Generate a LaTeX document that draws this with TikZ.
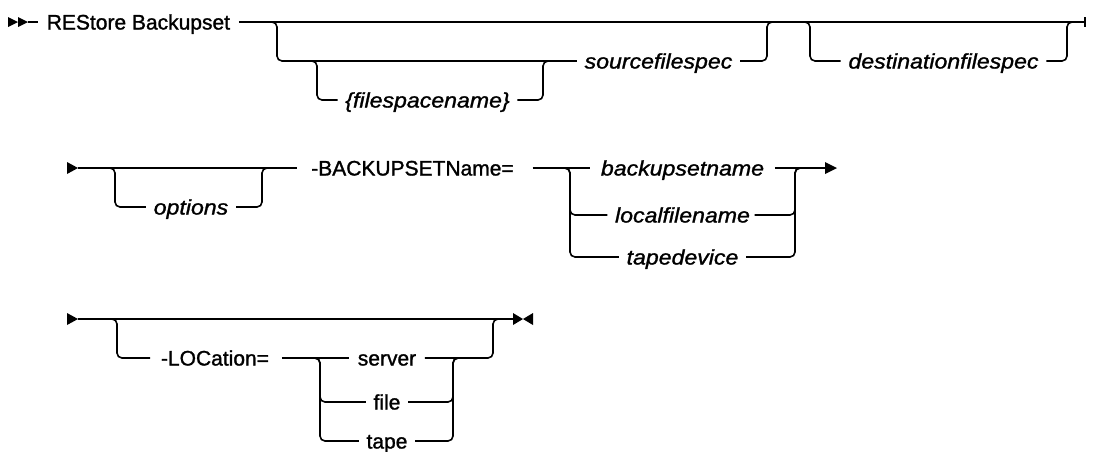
\documentclass[tikz,border=0pt]{standalone}
\usepackage{fontspec}
\setmainfont{Liberation Sans}[UprightFeatures={FakeBold=1.3},ItalicFeatures={FakeBold=1.3,FakeStretch=1.1}]
\begin{document}
\begin{tikzpicture}[x=1pt,y=-1pt,line width=1.6pt,
  rr/.style={rounded corners=5pt},
  txt/.style={inner xsep=0pt,inner ysep=0pt,text height=15pt,text depth=0pt,font=\fontsize{21}{25}\selectfont},
  itx/.style={txt,font=\fontsize{21}{25}\selectfont\itshape}]
\useasboundingbox (0,0) rectangle (1096,451);
% ---------- row 1 ----------
\fill (8,17) -- (18,22) -- (8,27) -- cycle;
\fill (18,17) -- (28,22) -- (18,27) -- cycle;
\coordinate (s1) at (28,22);
\node[txt,anchor=west] (rest) at (46,22) {REStore Backupset};
\draw (s1) -- ([xshift=-8pt]rest.west);
\coordinate (e1) at (1085,22);
\draw ([xshift=8pt]rest.east) -- (e1);
\draw (1085,17) -- (1085,27);
\node[itx] (sfs) at (658.5,61) {sourcefilespec};
\node[itx] (fsn) at (427.5,100) {\{filespacename\}};
\node[itx] (dfs) at (943.5,61) {destinationfilespec};
\draw[rr] (265,22) -| (277,61) -- ([xshift=-7pt]sfs.west);
\draw[rr] ([xshift=7pt]sfs.east) -| (767,22) -- (780,22);
\draw[rr] (305,61) -| (317,100) -- ([xshift=-7pt]fsn.west);
\draw[rr] ([xshift=7pt]fsn.east) -| (543,61) -- (555,61);
\draw[rr] (798,22) -| (810,61) -- ([xshift=-7pt]dfs.west);
\draw[rr] ([xshift=7pt]dfs.east) -| (1067,22) -- (1080,22);
% ---------- row 2 ----------
\fill (67,162) -- (78,168) -- (67,174) -- cycle;
\coordinate (s2) at (78,168);
\node[txt] (bsn) at (412.5,168) {-BACKUPSETName=};
\draw (s2) -- ([xshift=-13pt]bsn.west);
\node[itx] (opt) at (191,207) {options};
\draw[rr] (103,168) -| (115,207) -- ([xshift=-7pt]opt.west);
\draw[rr] ([xshift=7pt]opt.east) -| (262,168) -- (275,168);
\node[itx] (bkn) at (682.5,168) {backupsetname};
\node[itx] (lfn) at (682.5,215) {localfilename};
\node[itx] (tpd) at (682.5,257) {tapedevice};
\coordinate (e2) at (825,168);
\draw ([xshift=18pt]bsn.east) -- ([xshift=-10pt]bkn.west);
\draw ([xshift=10pt]bkn.east) -- (e2);
\fill (825,162) -- (837,168) -- (825,174) -- cycle;
\draw[rr] (558,168) -| (570,215) -- ([xshift=-7pt]lfn.west);
\draw[rr] (558,168) -| (570,257) -- ([xshift=-7pt]tpd.west);
\draw[rr] ([xshift=4pt]lfn.east) -| (795,168) -- (807,168);
\draw[rr] ([xshift=7pt]tpd.east) -| (795,168) -- (807,168);
% ---------- row 3 ----------
\fill (67,313) -- (78,319) -- (67,325) -- cycle;
\coordinate (s3) at (78,319);
\coordinate (e3) at (513,319);
\draw (s3) -- (e3);
\fill (513,313) -- (523,319) -- (513,325) -- cycle;
\fill (533,313) -- (523,319) -- (533,325) -- cycle;
\node[txt] (loc) at (215,358) {-LOCation=};
\draw[rr] (105,319) -| (117,358) -- ([xshift=-10pt]loc.west);
\node[txt] (srv) at (387,358) {server};
\node[txt] (fil) at (387,402) {file};
\node[txt] (tap) at (387,441) {tape};
\draw ([xshift=12pt]loc.east) -- ([xshift=-8pt]srv.west);
\draw[rr] ([xshift=8pt]srv.east) -| (493,319) -- (505,319);
\draw[rr] (308,358) -| (320,402) -- ([xshift=-7pt]fil.west);
\draw[rr] (308,358) -| (320,441) -- ([xshift=-7pt]tap.west);
\draw[rr] ([xshift=7pt]fil.east) -| (453,358) -- (465,358);
\draw[rr] ([xshift=7pt]tap.east) -| (453,358) -- (465,358);
\end{tikzpicture}
\end{document}
